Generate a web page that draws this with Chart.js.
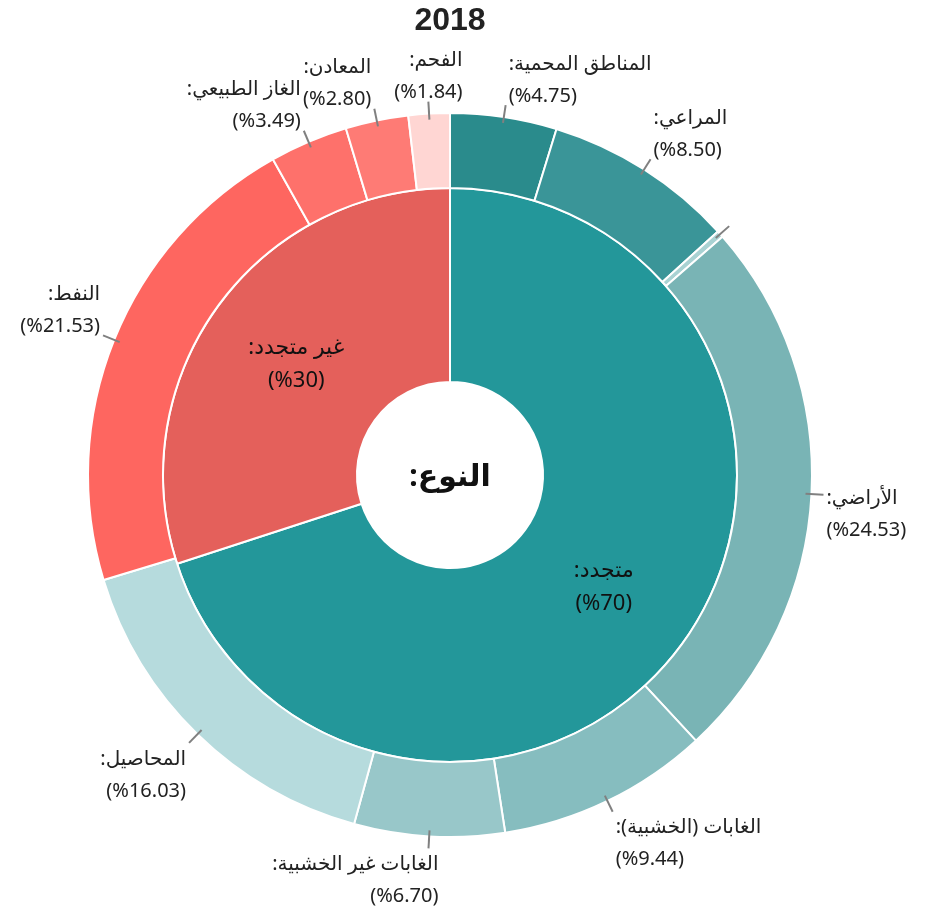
<!DOCTYPE html>
<html>
<head>
<meta charset="utf-8">
<script src="https://cdn.jsdelivr.net/npm/chart.js@4.4.0/dist/chart.umd.min.js"></script>
<style>
  body { margin: 0; background: #fff; }
</style>
</head>
<body>
<canvas id="sunChart" width="935" height="915"></canvas>
<script>
// data
const titleText = '2018';
const centerText = 'النوع:';

const innerLabels = ['متجدد', 'غير متجدد'];
const innerValues = [70, 30];
const innerColors = ['#23979A', '#E4605B'];

const outerLabels = ['المناطق المحمية', 'المراعي', '', 'الأراضي', 'الغابات (الخشبية)', 'الغابات غير الخشبية', 'المحاصيل', 'النفط', 'الغاز الطبيعي', 'المعادن', 'الفحم'];
const outerValues = [4.75, 8.50, 0.3, 24.53, 9.44, 6.70, 16.03, 21.53, 3.49, 2.80, 1.84];
const outerColors = ['#2A8B8C', '#3A9598', '#A9D2D3', '#79B4B5', '#86BDBF', '#98C7C9', '#B6DBDD', '#FE6660', '#FE716B', '#FE7B75', '#FFD6D3'];

const FONT = "'Noto Sans', 'DejaVu Sans', sans-serif";

const ringLabels = {
    id: 'ringLabels',
    afterDatasetsDraw(chart) {
        const ctx = chart.ctx;
        ctx.save();

        // outer ring labels with leader lines
        const outerMeta = chart.getDatasetMeta(0);
        outerMeta.data.forEach((arc, i) => {
            const p = arc.getProps(['x', 'y', 'startAngle', 'endAngle', 'outerRadius'], true);
            const mid = (p.startAngle + p.endAngle) / 2;
            const cos = Math.cos(mid), sin = Math.sin(mid);
            const nearVertical = Math.abs(cos) < 0.1;
            const r0 = p.outerRadius - 6;
            const r1 = p.outerRadius + 12;
            const ex = p.x + r1 * cos, ey = p.y + r1 * sin;

            ctx.strokeStyle = '#808080';
            ctx.lineWidth = 2;
            ctx.beginPath();
            ctx.moveTo(p.x + r0 * cos, p.y + r0 * sin);
            ctx.lineTo(ex, ey);
            ctx.stroke();

            if (!outerLabels[i]) return;

            const lines = [outerLabels[i] + ':', '(%' + outerValues[i].toFixed(2) + ')'];
            const lineH = 32;
            const blockH = lines.length * lineH;
            ctx.font = '20px ' + FONT;
            ctx.fillStyle = '#222';
            ctx.textBaseline = 'middle';
            const widths = lines.map(t => ctx.measureText(t).width);
            const blockW = Math.max(...widths);

            const f = Math.max(-1, Math.min(1, -4 * sin - 0.4));
            const top = ey - blockH / 2 - f * blockH / 2 + (f > 0 ? 7 * f : 0);

            lines.forEach((t, k) => {
                const ty = top + lineH * (k + 0.5);
                let right;
                if (nearVertical) {
                    right = sin > 0 ? ex + 10 : ex + blockW / 2;
                } else if (cos > 0) {
                    right = ex + 3 + widths[k];
                } else {
                    right = ex - 3;
                }
                ctx.textAlign = 'right';
                ctx.direction = k === 0 ? 'rtl' : 'ltr';
                ctx.fillText(t, right, ty);
            });
        });

        // inner ring labels
        const innerMeta = chart.getDatasetMeta(1);
        innerMeta.data.forEach((arc, i) => {
            const pos = arc.tooltipPosition(true);
            ctx.font = '22px ' + FONT;
            ctx.fillStyle = '#111';
            ctx.textAlign = 'center';
            ctx.textBaseline = 'middle';
            ctx.direction = 'rtl';
            ctx.fillText(innerLabels[i] + ':', pos.x, pos.y - 16);
            ctx.direction = 'ltr';
            ctx.fillText('(%' + innerValues[i] + ')', pos.x, pos.y + 17);
        });

        // center text and title
        const c = outerMeta.data[0];
        ctx.font = 'bold 30px ' + FONT;
        ctx.fillStyle = '#111';
        ctx.textAlign = 'center';
        ctx.direction = 'rtl';
        ctx.fillText(centerText, c.x, c.y + 2);

        ctx.direction = 'ltr';
        ctx.font = "bold 32px 'Liberation Sans', Arial, sans-serif";
        ctx.fillStyle = '#222';
        ctx.fillText(titleText, c.x, 21);
        ctx.restore();
    }
};

new Chart(document.getElementById('sunChart'), {
    type: 'doughnut',
    data: {
        labels: outerLabels,
        datasets: [
            {
                data: outerValues,
                backgroundColor: outerColors,
                borderColor: '#fff',
                borderWidth: 2,
                weight: 75
            },
            {
                data: innerValues,
                backgroundColor: innerColors,
                borderColor: '#fff',
                borderWidth: 2,
                weight: 194
            }
        ]
    },
    options: {
        responsive: false,
        animation: false,
        cutout: '25.7%',
        layout: {
            padding: { left: 87, right: 122, top: 112, bottom: 77 }
        },
        plugins: {
            legend: { display: false },
            tooltip: { enabled: false },
            title: { display: false }
        }
    },
    plugins: [ringLabels]
});
</script>
</body>
</html>
